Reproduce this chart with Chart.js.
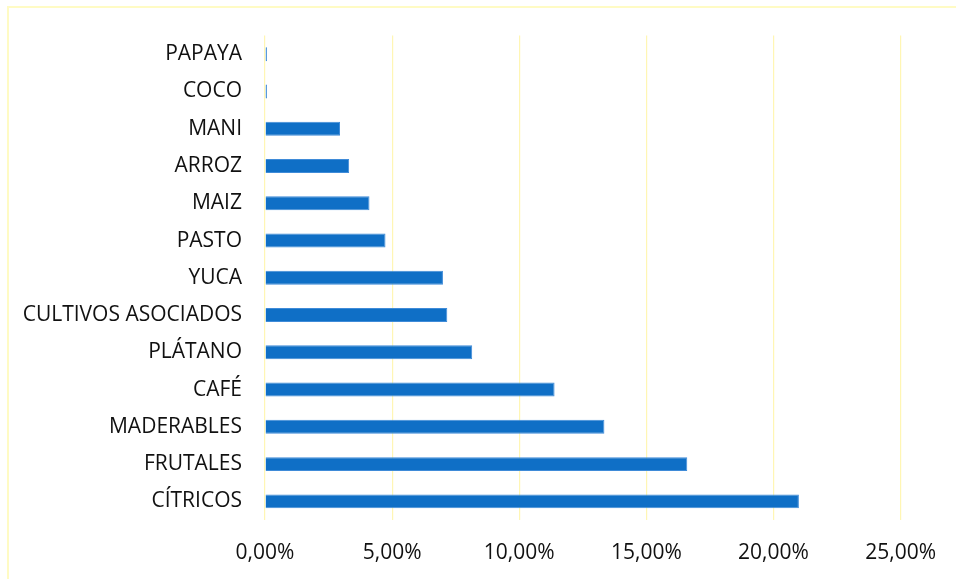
<!DOCTYPE html>
<html>
<head>
<meta charset="utf-8">
<script src="https://cdn.jsdelivr.net/npm/chart.js@4"></script>
<style>
  html, body { margin: 0; padding: 0; background: #fff; overflow: hidden; }
  #wrap { position: relative; width: 956px; height: 579px; }
  #frame { position: absolute; left: 7px; top: 6px; width: 1000px; height: 620px;
           border: 2px solid #fffbc4; box-sizing: border-box; }
  canvas { position: absolute; left: 0; top: 0; }
</style>
</head>
<body>
<div id="wrap">
  <div id="frame"></div>
  <canvas id="chart-cultivos" width="956" height="579"></canvas>
</div>
<script>
// categorías de arriba hacia abajo
const cultivos = ['PAPAYA', 'COCO', 'MANI', 'ARROZ', 'MAIZ', 'PASTO', 'YUCA',
  'CULTIVOS ASOCIADOS', 'PLÁTANO', 'CAFÉ', 'MADERABLES', 'FRUTALES', 'CÍTRICOS'];
// porcentaje (%)
const porcentajes = [0.08, 0.08, 2.95, 3.31, 4.11, 4.74, 7.0, 7.17, 8.15, 11.39, 13.35, 16.61, 21.0];
const ejeMin = 0, ejeMax = 25, ejePaso = 5;

const fuente = { family: 'Open Sans', size: 21 };

new Chart(document.getElementById('chart-cultivos'), {
    type: 'bar',
    data: {
        labels: cultivos,
        datasets: [{
            data: porcentajes,
            backgroundColor: '#0f6fc6',
            borderColor: '#3f8bd8',
            borderWidth: 1,
            categoryPercentage: 0.72,
            barPercentage: 0.52
        }]
    },
    options: {
        indexAxis: 'y',
        responsive: false,
        animation: false,
        layout: { padding: { top: 35, right: 54, bottom: 0, left: 0 } },
        plugins: { legend: { display: false }, tooltip: { enabled: false } },
        scales: {
            x: {
                min: ejeMin, max: ejeMax,
                ticks: {
                    stepSize: ejePaso, padding: 20, color: '#111', font: fuente,
                    callback: v => v.toFixed(2).replace('.', ',') + '%'
                },
                grid: { color: '#fff6b4', lineWidth: 1.2, drawTicks: false },
                border: { display: false },
                afterFit: s => { s.height = 59; }
            },
            y: {
                ticks: { padding: 23, color: '#111', font: fuente },
                grid: { display: false, drawTicks: false },
                border: { display: false },
                afterFit: s => { s.width = 265; }
            }
        }
    }
});
</script>
</body>
</html>
